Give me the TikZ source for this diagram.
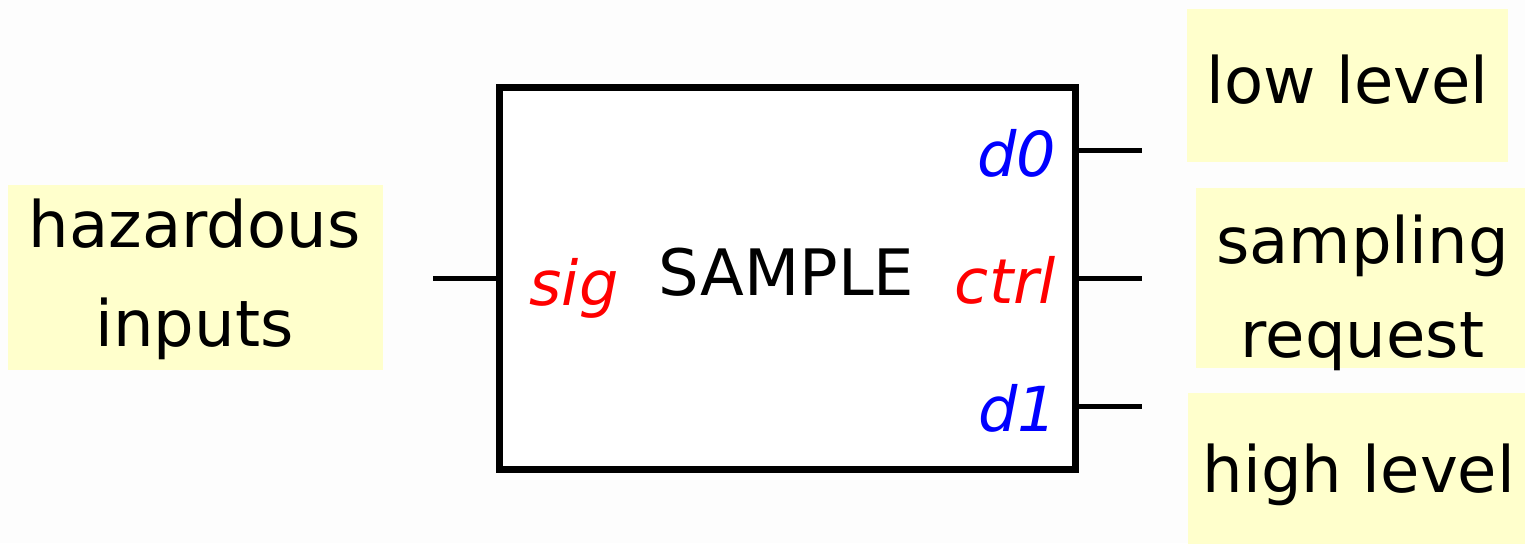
\documentclass[tikz,border=0pt]{standalone}
\usepackage{fontspec}
\setmainfont{DejaVu Sans}
\definecolor{notebg}{HTML}{FFFFCC}
\definecolor{pagebg}{HTML}{FDFDFD}
\definecolor{pinred}{HTML}{FF0000}
\definecolor{pinblue}{HTML}{0000FF}
\begin{document}
\begin{tikzpicture}[x=0.5pt,y=-0.5pt,
  note/.style={fill=notebg,draw=none,inner sep=0pt,outer sep=0pt},
  txt/.style={inner sep=0pt,outer sep=0pt,font=\fontsize{32}{49.5}\selectfont,align=center},
  pinlbl/.style={inner sep=0pt,outer sep=0pt,font=\fontsize{31}{40}\selectfont\itshape},
  block/.style={draw=black,line width=3.5pt,fill=white,inner sep=0pt},
  pinline/.style={draw=black,line width=2.5pt}]
\fill[pagebg] (0,0) rectangle (1525,543);
\useasboundingbox (0,0) rectangle (1525,543);
% yellow notes
\node[note,minimum width=187.5pt,minimum height=92.5pt] (hazbg) at (195.5,277.5) {};
\node[note,minimum width=160.5pt,minimum height=76.5pt] (lowbg) at (1347.5,85.5) {};
\node[note,minimum width=170pt,minimum height=90pt] (sambg) at (1366,278) {};
\node[note,minimum width=175pt,minimum height=90pt] (highbg) at (1363,483) {};
% note texts (base = baseline of the last line)
\node[txt,anchor=base] (haz) at (194.5,346.5) {hazardous\\inputs};
\node[txt,anchor=base] (low) at (1347.5,103.5) {low level};
\node[txt,anchor=base,font=\fontsize{32}{47}\selectfont] (sam) at (1362.5,357) {sampling\\request};
\node[txt,anchor=base] (high) at (1359,492) {high level};
% block
\node[block,minimum width=288pt,minimum height=191pt] (blk) at (787.5,278) {};
\node[txt,anchor=base] (title) at (786.5,295.5) {SAMPLE};
% pin ends
\coordinate (sigend) at (433,278);
\coordinate (d0end) at (1142,150);
\coordinate (ctrlend) at (1142,278);
\coordinate (d1end) at (1142,406);
\draw[pinline] (blk.west) -- (sigend);
\draw[pinline] (d0end -| blk.east) -- (d0end);
\draw[pinline] (blk.east) -- (ctrlend);
\draw[pinline] (d1end -| blk.east) -- (d1end);
% pin labels
\node[pinlbl,text=pinred,anchor=base] (sig) at (574,305) {sig};
\node[pinlbl,text=pinred,anchor=base east] (ctrl) at (1056,303) {ctrl};
\node[pinlbl,text=pinblue,anchor=base east] (d0) at (1056,176) {d0};
\node[pinlbl,text=pinblue,anchor=base east] (d1) at (1057,431) {d1};
\end{tikzpicture}
\end{document}
